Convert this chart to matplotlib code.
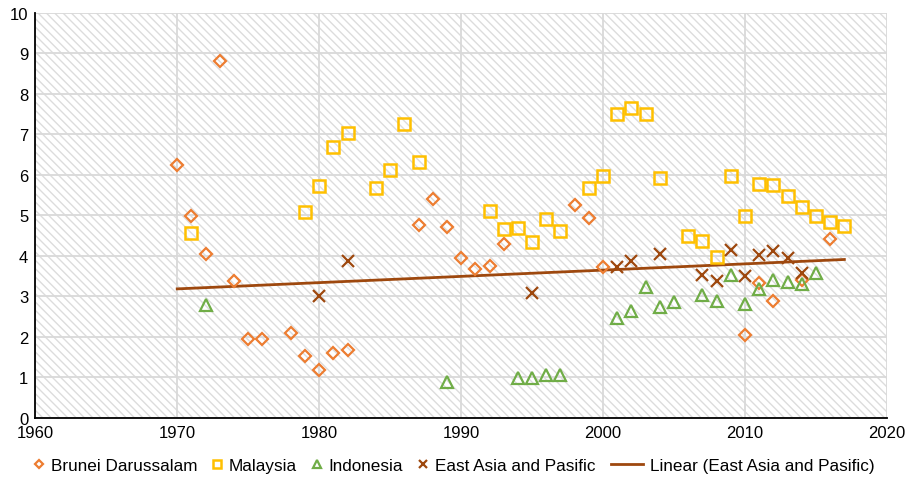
import numpy as np
import matplotlib.pyplot as plt
from matplotlib.patches import Rectangle

plt.rcParams['font.family'] = ['Liberation Sans', 'DejaVu Sans']
plt.rcParams['hatch.linewidth'] = 1.0

# data ------------------------------------------------------------------

brunei_years = [1970, 1971, 1972, 1973, 1974, 1975, 1976, 1978, 1979, 1980,
                1981, 1982, 1987, 1988, 1989, 1990, 1991, 1992, 1993, 1998,
                1999, 2000, 2010, 2011, 2012, 2014, 2016]
brunei_vals = [6.24, 4.99, 4.03, 8.80, 3.38, 1.95, 1.95, 2.09, 1.53, 1.17,
               1.60, 1.68, 4.75, 5.40, 4.72, 3.95, 3.66, 3.74, 4.29, 5.25,
               4.93, 3.71, 2.03, 3.32, 2.87, 3.40, 4.42]

malaysia_years = [1971, 1979, 1980, 1981, 1982, 1984, 1985, 1986, 1987, 1992,
                  1993, 1994, 1995, 1996, 1997, 1999, 2000, 2001, 2002, 2003,
                  2004, 2006, 2007, 2008, 2009, 2010, 2011, 2012, 2013, 2014,
                  2015, 2016, 2017]
malaysia_vals = [4.55, 5.08, 5.72, 6.69, 7.03, 5.66, 6.11, 7.24, 6.32, 5.10,
                 4.65, 4.69, 4.34, 4.91, 4.62, 5.68, 5.97, 7.49, 7.65, 7.51,
                 5.92, 4.48, 4.37, 3.96, 5.97, 4.97, 5.76, 5.74, 5.48, 5.21,
                 4.97, 4.83, 4.74]

indonesia_years = [1972, 1989, 1994, 1995, 1996, 1997, 2001, 2002, 2003, 2004,
                   2005, 2007, 2008, 2009, 2010, 2011, 2012, 2013, 2014, 2015]
indonesia_vals = [2.78, 0.87, 0.98, 0.98, 1.06, 1.06, 2.45, 2.64, 3.22, 2.74,
                  2.86, 3.04, 2.89, 3.53, 2.81, 3.18, 3.40, 3.36, 3.29, 3.58]

eap_years = [1980, 1982, 1995, 2001, 2002, 2004, 2007, 2008, 2009, 2010,
             2011, 2012, 2013, 2014]
eap_vals = [3.01, 3.87, 3.09, 3.71, 3.86, 4.03, 3.52, 3.38, 4.13, 3.51,
            4.01, 4.12, 3.94, 3.58]

trend_range = [1970, 2017]

# plot ------------------------------------------------------------------

fig = plt.figure(figsize=(9.14, 4.81), dpi=100)
ax = fig.add_axes([0.0386, 0.1295, 0.9318, 0.842])

# hatched plot area background
ax.add_patch(Rectangle((0, 0), 1, 1, transform=ax.transAxes, facecolor='white',
                       edgecolor='#DCDCDC', hatch='\\\\\\\\', lw=0, zorder=0))

h1, = ax.plot(brunei_years, brunei_vals, 'D', ms=6, mfc='none', mec='#ED7D31',
              mew=1.6, ls='none', label='Brunei Darussalam', zorder=3)
h2, = ax.plot(malaysia_years, malaysia_vals, 's', ms=8, mfc='none',
              mec='#FFC000', mew=1.8, ls='none', label='Malaysia', zorder=3)
h3, = ax.plot(indonesia_years, indonesia_vals, '^', ms=8, mfc='none',
              mec='#70AD47', mew=1.6, ls='none', label='Indonesia', zorder=3)
h4, = ax.plot(eap_years, eap_vals, 'x', ms=8, mec='#9E480E', mew=1.6,
              ls='none', label='East Asia and Pasific', zorder=3)

# linear trendline
coef = np.polyfit(eap_years, eap_vals, 1)
tx = np.array(trend_range)
trend, = ax.plot(tx, np.polyval(coef, tx), color='#9E480E', lw=2,
                 label='Linear (East Asia and Pasific)', zorder=2)

ax.set_xlim(1960, 2020)
ax.set_ylim(0, 10)
ax.set_xticks(range(1960, 2021, 10))
ax.set_yticks(range(0, 11))
ax.grid(True, color='#D9D9D9', lw=1.3, zorder=1)
ax.set_axisbelow(True)
ax.tick_params(length=0, labelsize=12, pad=5)
for s in ['top', 'right']:
    ax.spines[s].set_visible(False)
ax.spines['left'].set_color('black')
ax.spines['bottom'].set_color('black')
ax.spines['left'].set_linewidth(1.3)
ax.spines['bottom'].set_linewidth(1.3)

# legend: markers in one box, trendline in another (longer line handle)
fig.legend(handles=[h1, h2, h3, h4], loc='center left',
           bbox_to_anchor=(0.035, 0.031), ncol=4, frameon=False,
           fontsize=12.3, handlelength=0.8, handletextpad=0.3,
           columnspacing=0.75, markerscale=0.75, borderpad=0,
           borderaxespad=0)
fig.legend(handles=[trend], loc='center left',
           bbox_to_anchor=(0.669, 0.031), frameon=False, fontsize=12.3,
           handlelength=1.87, handletextpad=0.4, borderpad=0,
           borderaxespad=0)

plt.savefig('out.png', dpi=100)
